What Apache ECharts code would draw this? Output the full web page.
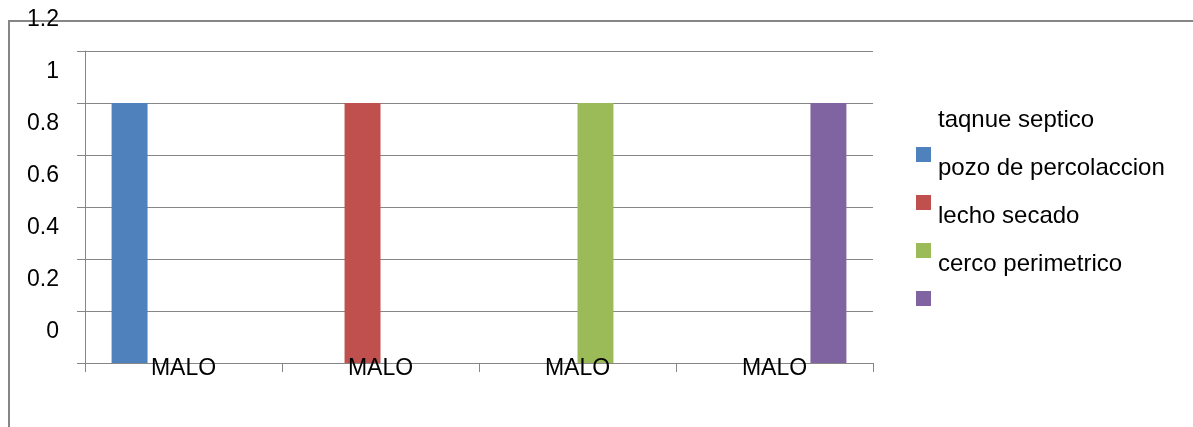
<!DOCTYPE html>
<html>
<head>
<meta charset="utf-8">
<script src="https://cdn.jsdelivr.net/npm/echarts@6/dist/echarts.min.js"></script>
<style>
  html, body { margin: 0; padding: 0; background: #fff; }
  #chart { width: 1193px; height: 427px; }
</style>
</head>
<body>
<div id="chart"></div>
<script>
// categories on the x axis
const categories = ['MALO', 'MALO', 'MALO', 'MALO'];

// series names as shown in the legend
const seriesNames = ['taqnue septico', 'pozo de percolaccion', 'lecho secado', 'cerco perimetrico'];

// one value per category for each series (null = no bar)
const tanqueValues = [1, null, null, null];
const pozoValues = [null, 1, null, null];
const lechoValues = [null, null, 1, null];
const cercoValues = [null, null, null, 1];

// value axis range
const yMin = 0;
const yMax = 1.2;
const yStep = 0.2;

const seriesColors = ['#4F81BD', '#C0504D', '#9BBB59', '#8064A2'];

const axisGray = '#868686';
const font = 'Liberation Sans, Arial, sans-serif';

const chart = echarts.init(document.getElementById('chart'), null, { renderer: 'canvas' });

const valueSets = [tanqueValues, pozoValues, lechoValues, cercoValues];

const option = {
    animation: false,
    backgroundColor: '#fff',
    color: seriesColors,
    textStyle: { fontFamily: font },
    grid: [
        // plot area
        { left: 85, right: 320, top: 51, bottom: 64, outerBoundsMode: 'none' },
        // same size, 31px higher: carries the y labels, which sit above their gridlines in the original
        { left: 85, right: 320, top: 20, bottom: 95, outerBoundsMode: 'none' }
    ],
    // outer chart frame, clipped at the right and bottom like the original
    graphic: [{
        type: 'rect',
        shape: { x: 9, y: 21, width: 1400, height: 600 },
        style: { fill: 'none', stroke: axisGray, lineWidth: 2 },
        silent: true,
        z: -1
    }],
    legend: [
        {
            // colour markers only
            orient: 'vertical',
            left: 916,
            top: 147,
            padding: 0,
            itemWidth: 15,
            itemHeight: 15,
            itemGap: 33,
            icon: 'rect',
            formatter: function () { return ''; },
            data: seriesNames
        },
        {
            // labels, sitting one step above their markers
            orient: 'vertical',
            left: 916,
            top: 106,
            padding: 0,
            itemWidth: 17,
            itemHeight: 28,
            itemGap: 20,
            icon: 'none',
            textStyle: { fontSize: 24, lineHeight: 28, color: '#000', fontFamily: font },
            data: seriesNames
        }
    ],
    xAxis: [
        {
            type: 'category',
            gridIndex: 0,
            data: categories,
            axisLine: { lineStyle: { color: axisGray, width: 1 } },
            axisTick: { show: true, length: 9, lineStyle: { color: axisGray } },
            axisLabel: {
                color: '#000',
                fontSize: 23,
                fontFamily: font,
                verticalAlign: 'middle',
                margin: 6
            },
            z: 5
        },
        {
            type: 'category',
            gridIndex: 1,
            data: categories,
            show: false
        }
    ],
    yAxis: [
        {
            type: 'value',
            gridIndex: 0,
            min: yMin,
            max: yMax,
            interval: yStep,
            axisLine: { show: true, lineStyle: { color: axisGray, width: 1 } },
            axisTick: { show: true, length: 8, lineStyle: { color: axisGray } },
            splitLine: { lineStyle: { color: axisGray, width: 1 } },
            axisLabel: { show: false }
        },
        {
            type: 'value',
            gridIndex: 1,
            min: yMin,
            max: yMax,
            interval: yStep,
            axisLine: { show: false },
            axisTick: { show: false },
            splitLine: { show: false },
            axisLabel: {
                color: '#000',
                fontSize: 23,
                fontFamily: font,
                margin: 26,
                showMinLabel: true,
                showMaxLabel: true,
                formatter: function (v) { return String(Math.round(v * 10) / 10); }
            }
        }
    ],
    series: seriesNames.map(function (name, i) {
        return {
            name: name,
            type: 'bar',
            xAxisIndex: 0,
            yAxisIndex: 0,
            barGap: 0,
            barCategoryGap: '27%',
            data: valueSets[i]
        };
    })
};

chart.setOption(option);
</script>
</body>
</html>
